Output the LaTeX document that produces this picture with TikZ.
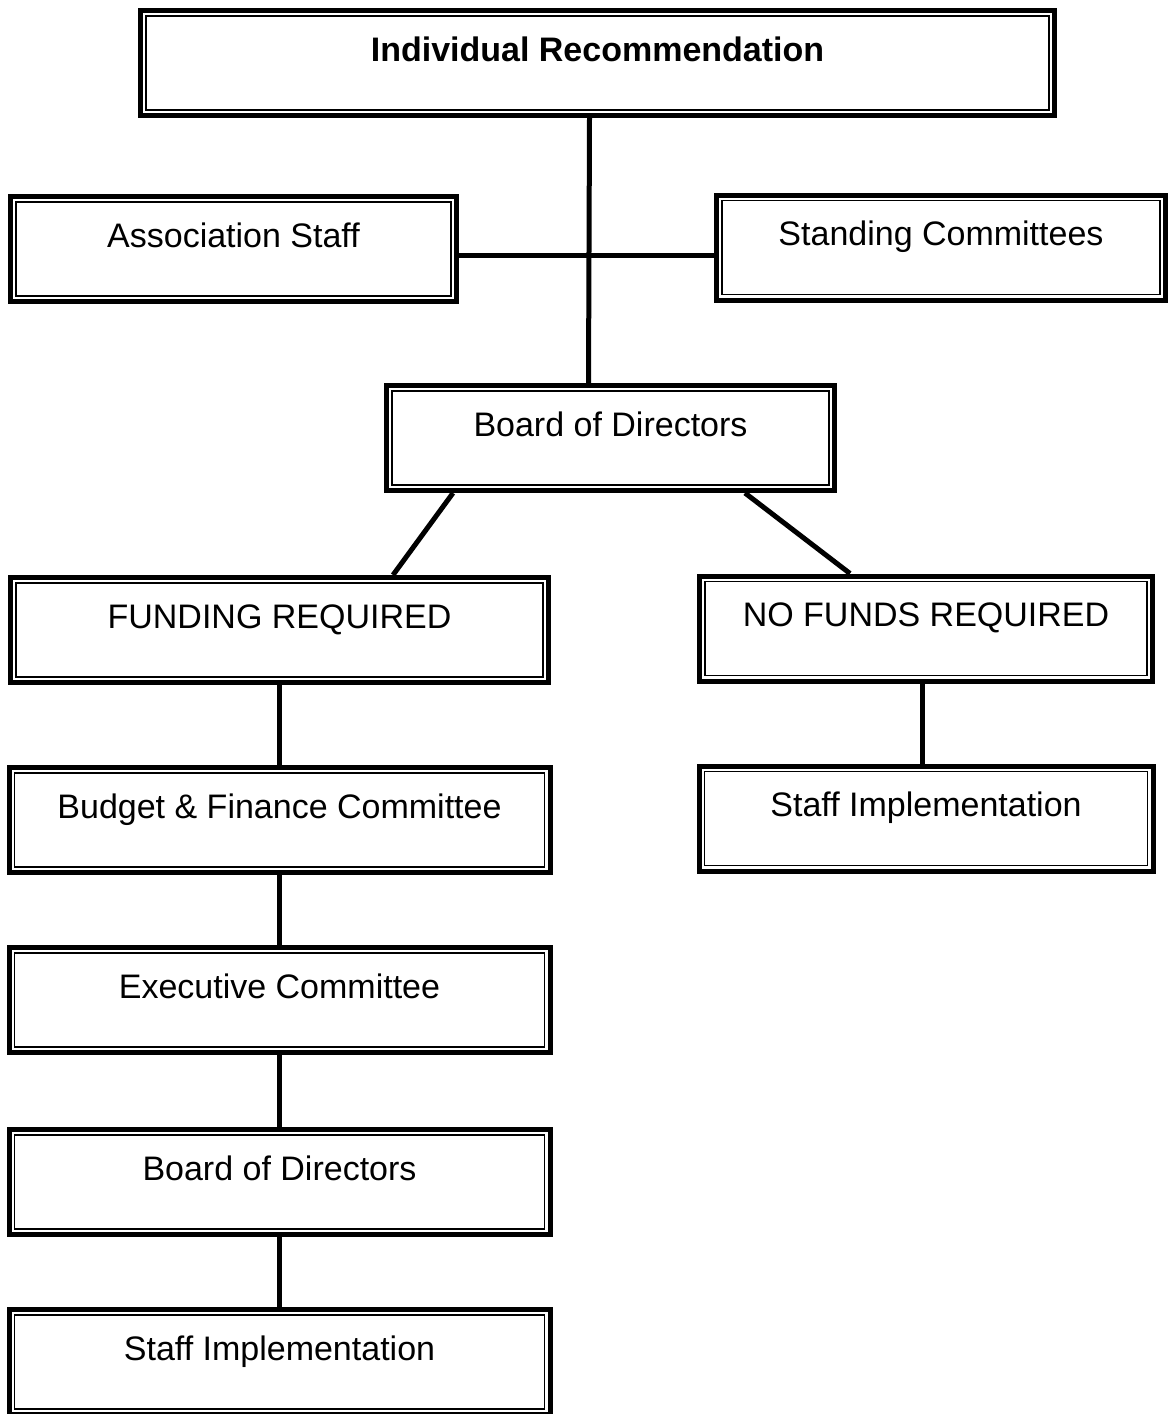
\documentclass[tikz,border=0pt]{standalone}
\usepackage{fontspec}
\setmainfont{Liberation Sans}
\usepackage{tikz}
\usetikzlibrary{
  positioning,
}
\tikzset{
  stage/.style={draw, rectangle, line width=5pt, inner xsep=0pt, inner ysep=0pt,
    minimum height=105pt, text height=50.5pt, text depth=54.5pt,
    font=\fontsize{34}{40}\selectfont,
    path picture={\draw [line width=1.3pt]
      ([shift={(5.5pt,-5.5pt)}]path picture bounding box.north west) rectangle
      ([shift={(-5.5pt,5.5pt)}]path picture bounding box.south east);}},
  wide/.style={stage, minimum width=541pt},
  side/.style={stage, minimum width=449pt},
  link/.style={line width=5pt},
}

\begin{document}
\begin{tikzpicture}[x=1pt, y=-1pt]
    \useasboundingbox (0,0) rectangle (1168,1414);
    \node [stage, minimum width=914pt, font=\fontsize{34}{40}\selectfont\bfseries] (Rec) at (597.5,63) {Individual Recommendation};
    \node [side, minimum width=446pt] (Staff) at (233.5,249) {Association Staff};
    \node [side] (Standing) at (941,247.5) {Standing Committees};
    \node [side, minimum width=448pt] (Board) at (610.5,438) {Board of Directors};
    \node [wide, minimum width=538pt] (Fund) at (279.5,630) {FUNDING REQUIRED};
    \node [side, minimum width=453pt] (NoFund) at (926,628.5) {NO FUNDS REQUIRED};
    \node [wide, below=80pt of Fund] (Budget) {Budget \& Finance Committee};
    \node [wide, below=70pt of Budget] (Exec) {Executive Committee};
    \node [wide, below=72pt of Exec] (BoardB) {Board of Directors};
    \node [wide, below=70pt of BoardB] (ImplB) {Staff Implementation};
    \node [side, minimum width=454pt, below=80pt of NoFund] (ImplA) {Staff Implementation};
    \draw [link] ([xshift=-8pt]Rec.south) to ([xshift=-22pt]Board.north);
    \draw [link] ([yshift=-6pt]Staff.east) to ([yshift=-7.5pt]Standing.west);
    \draw [link] ([xshift=-157.5pt]Board.south) to ([xshift=113.5pt]Fund.north);
    \draw [link] ([xshift=134.5pt]Board.south) to ([xshift=-76pt]NoFund.north);
    \draw [link] (Fund) to (Budget);
    \draw [link] ([xshift=-4pt]NoFund.south) to ([xshift=-4pt]ImplA.north);
    \draw [link] (Budget) to (Exec);
    \draw [link] (Exec) to (BoardB);
    \draw [link] (BoardB) to (ImplB);
  \end{tikzpicture}
\end{document}
